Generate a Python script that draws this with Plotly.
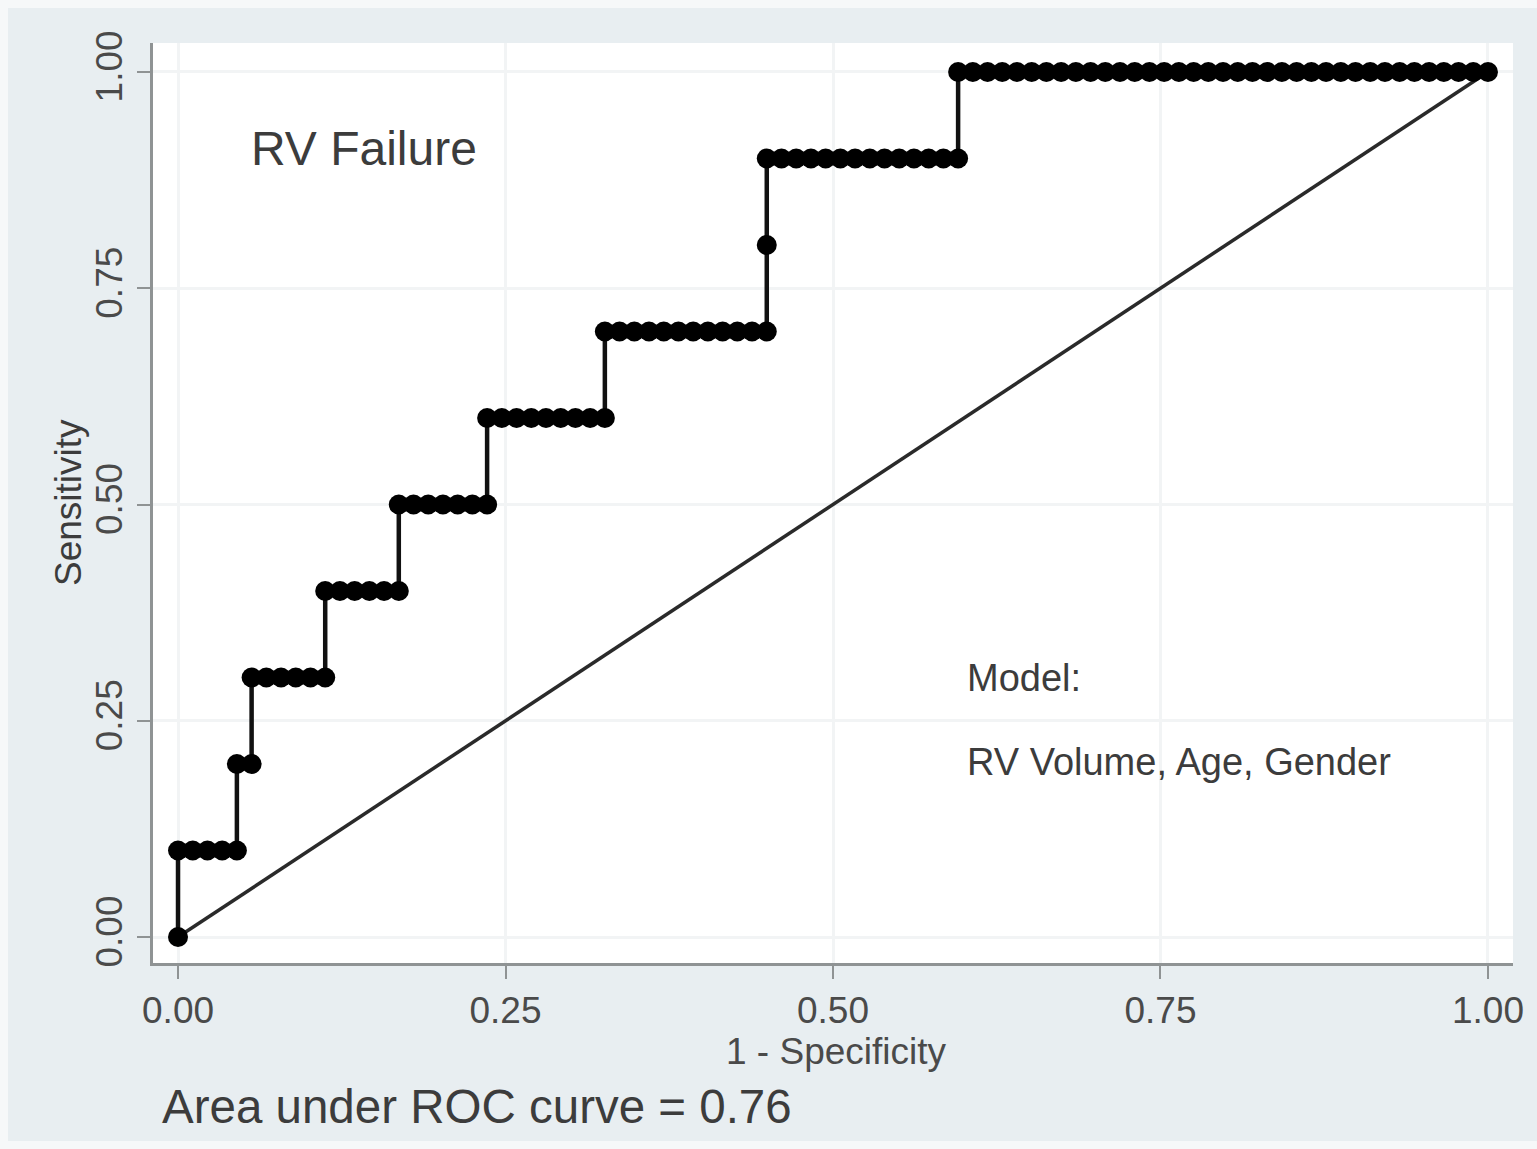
import plotly.graph_objects as go

# ROC data: 10 positives, 89 negatives
n_neg = 89
sens_levels = [0.0, 0.1, 0.2, 0.3, 0.4, 0.5, 0.6, 0.7, 0.8, 0.9, 1.0]
fp_start = [0, 0, 4, 5, 10, 15, 21, 29, 40, 40, 53]
fp_end = [0, 4, 5, 10, 15, 21, 29, 40, 40, 53, 89]

tick_vals = [0, 0.25, 0.5, 0.75, 1.0]
tick_text = ["0.00", "0.25", "0.50", "0.75", "1.00"]

roc_x, roc_y = [], []
for s, a, b in zip(sens_levels, fp_start, fp_end):
    for k in range(a, b + 1):
        roc_x.append(k / n_neg)
        roc_y.append(s)

ref_x = [0, 1]
ref_y = [0, 1]

FONT = "Liberation Sans, Arial, sans-serif"
TXT = "#3c3c3c"
BORDER = "#f6f8f9"

fig = go.Figure()
fig.add_trace(go.Scatter(x=ref_x, y=ref_y, mode="lines",
                         line=dict(color="#2a2a2a", width=3.5), hoverinfo="skip"))
fig.add_trace(go.Scatter(x=roc_x, y=roc_y, mode="lines+markers",
                         line=dict(color="#111111", width=4.5),
                         marker=dict(color="#000000", size=20, line=dict(width=0))))

shapes = [
    dict(type="rect", xref="paper", yref="paper", x0=-0.1125, x1=1.0176,
         y0=1.0380, y1=1.0467, fillcolor=BORDER, line=dict(width=0), layer="above"),
    dict(type="rect", xref="paper", yref="paper", x0=-0.1125, x1=-0.1066,
         y0=-0.2022, y1=1.0467, fillcolor=BORDER, line=dict(width=0), layer="above"),
    dict(type="rect", xref="paper", yref="paper", x0=-0.1125, x1=1.0176,
         y0=-0.2022, y1=-0.1935, fillcolor=BORDER, line=dict(width=0), layer="above"),
]

fig.update_layout(
    width=1537, height=1149,
    margin=dict(l=153, r=24, t=43, b=186),
    paper_bgcolor="#e8eef1",
    plot_bgcolor="#ffffff",
    showlegend=False,
    font=dict(family=FONT, color=TXT),
    shapes=shapes,
    xaxis=dict(range=[-0.0191, 1.0191], tickvals=tick_vals, ticktext=tick_text,
               showgrid=True, gridcolor="#f2f4f5", gridwidth=3, zeroline=False,
               showline=True, linecolor="#8f9394", linewidth=3,
               ticks="outside", ticklen=13, tickwidth=2, tickcolor="#8f9394",
               tickfont=dict(size=37, color="#4a4a4a", family=FONT)),
    yaxis=dict(range=[-0.030, 1.0335], tickvals=tick_vals, ticktext=tick_text,
               showgrid=True, gridcolor="#f2f4f5", gridwidth=3, zeroline=False,
               showline=True, linecolor="#8f9394", linewidth=3,
               ticks="outside", ticklen=13, tickwidth=2, tickcolor="#8f9394",
               tickangle=-90,
               tickfont=dict(size=37, color="#4a4a4a", family=FONT)),
    annotations=[
        dict(text="RV Failure", x=0.054, y=0.912, xref="x", yref="y",
             xanchor="left", yanchor="middle", showarrow=False,
             font=dict(size=48, color=TXT, family=FONT)),
        dict(text="Model:", x=0.601, y=0.300, xref="x", yref="y",
             xanchor="left", yanchor="middle", showarrow=False,
             font=dict(size=38, color=TXT, family=FONT)),
        dict(text="RV Volume, Age, Gender", x=0.601, y=0.202, xref="x", yref="y",
             xanchor="left", yanchor="middle", showarrow=False,
             font=dict(size=38, color=TXT, family=FONT)),
        dict(text="1 - Specificity", x=0.5026, y=-0.0965, xref="paper", yref="paper",
             xanchor="center", yanchor="middle", showarrow=False,
             font=dict(size=37, color="#4a4a4a", family=FONT)),
        dict(text="Sensitivity", x=-0.0625, y=0.5, xref="paper", yref="paper",
             xanchor="center", yanchor="middle", showarrow=False, textangle=-90,
             font=dict(size=37, color="#3c3c3c", family=FONT)),
        dict(text="Area under ROC curve = 0.76", x=0.005, y=-0.1565,
             xref="paper", yref="paper", xanchor="left", yanchor="middle",
             showarrow=False, font=dict(size=47.5, color=TXT, family=FONT)),
    ],
)

fig.write_html("out.html")
